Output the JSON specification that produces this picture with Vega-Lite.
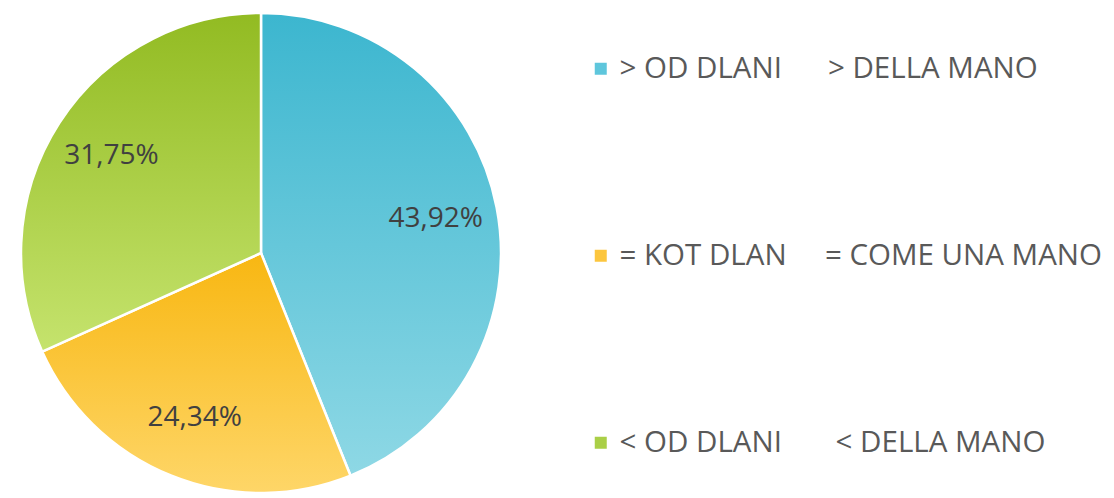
{
  "$schema": "https://vega.github.io/schema/vega-lite/v6.json",
  "width": 522,
  "height": 498,
  "padding": {"left": 0, "top": 4, "right": 0, "bottom": 0},
  "background": "white",
  "view": {"stroke": null},
  "data": {
    "values": [
      {"idx": 1, "category": "> OD DLANI\u00a0\u00a0\u00a0\u00a0\u00a0\u00a0> DELLA MANO", "share": 43.92, "label": "43,92%"},
      {"idx": 2, "category": "= KOT DLAN\u00a0\u00a0\u00a0\u00a0\u00a0= COME UNA MANO", "share": 24.34, "label": "24,34%"},
      {"idx": 3, "category": "< OD DLANI\u00a0\u00a0\u00a0\u00a0\u00a0\u00a0\u00a0< DELLA MANO", "share": 31.75, "label": "31,75%"}
    ]
  },
  "transform": [
    {"stack": "share", "groupby": [], "sort": [{"field": "idx", "order": "ascending"}], "as": ["s0", "s1"]}
  ],
  "layer": [
    {
      "mark": {"type": "arc", "outerRadius": 240, "stroke": "white", "strokeWidth": 2.5},
      "encoding": {
        "theta": {"field": "s0", "type": "quantitative", "scale": {"domain": [0, 100.01]}},
        "theta2": {"field": "s1"},
        "color": {
          "field": "category",
          "type": "nominal",
          "sort": null,
          "scale": {
            "domain": [
              "> OD DLANI\u00a0\u00a0\u00a0\u00a0\u00a0\u00a0> DELLA MANO",
              "= KOT DLAN\u00a0\u00a0\u00a0\u00a0\u00a0= COME UNA MANO",
              "< OD DLANI\u00a0\u00a0\u00a0\u00a0\u00a0\u00a0\u00a0< DELLA MANO"
            ],
            "range": ["#5ec6dc", "#fcc63e", "#aacf47"]
          },
          "legend": {
            "orient": "none",
            "legendX": 586,
            "legendY": 50,
            "title": null,
            "symbolType": "square",
            "symbolSize": 144,
            "symbolStrokeWidth": 0,
            "labelFontSize": 29.5,
            "labelFont": "Open Sans",
            "labelColor": "#595959",
            "labelOffset": 4,
            "labelLimit": 700,
            "rowPadding": 156
          }
        }
      }
    },
    {
      "transform": [{"filter": "datum.idx == 1"}],
      "mark": {"type": "arc", "outerRadius": 240, "stroke": "white", "strokeWidth": 2.5,
        "fill": {"gradient": "linear", "x1": 0, "y1": 0, "x2": 0, "y2": 1, "stops": [{"offset": 0, "color": "#3cb6cf"}, {"offset": 1, "color": "#8ed8e5"}]}},
      "encoding": {
        "theta": {"field": "s0", "type": "quantitative", "scale": {"domain": [0, 100.01]}},
        "theta2": {"field": "s1"}
      }
    },
    {
      "transform": [{"filter": "datum.idx == 2"}],
      "mark": {"type": "arc", "outerRadius": 240, "stroke": "white", "strokeWidth": 2.5,
        "fill": {"gradient": "linear", "x1": 0, "y1": 0, "x2": 0, "y2": 1, "stops": [{"offset": 0, "color": "#f8b712"}, {"offset": 1, "color": "#fed668"}]}},
      "encoding": {
        "theta": {"field": "s0", "type": "quantitative", "scale": {"domain": [0, 100.01]}},
        "theta2": {"field": "s1"}
      }
    },
    {
      "transform": [{"filter": "datum.idx == 3"}],
      "mark": {"type": "arc", "outerRadius": 240, "stroke": "white", "strokeWidth": 2.5,
        "fill": {"gradient": "linear", "x1": 0, "y1": 0, "x2": 0, "y2": 1, "stops": [{"offset": 0, "color": "#92bb22"}, {"offset": 1, "color": "#c5e36d"}]}},
      "encoding": {
        "theta": {"field": "s0", "type": "quantitative", "scale": {"domain": [0, 100.01]}},
        "theta2": {"field": "s1"}
      }
    },
    {
      "mark": {"type": "text", "radius": 178, "fontSize": 28, "font": "Open Sans", "fill": "#404040"},
      "encoding": {
        "theta": {"field": "share", "type": "quantitative", "stack": true, "scale": {"domain": [0, 100.01]}},
        "order": {"field": "idx", "type": "quantitative", "sort": "ascending"},
        "text": {"field": "label", "type": "nominal"}
      }
    }
  ]
}
